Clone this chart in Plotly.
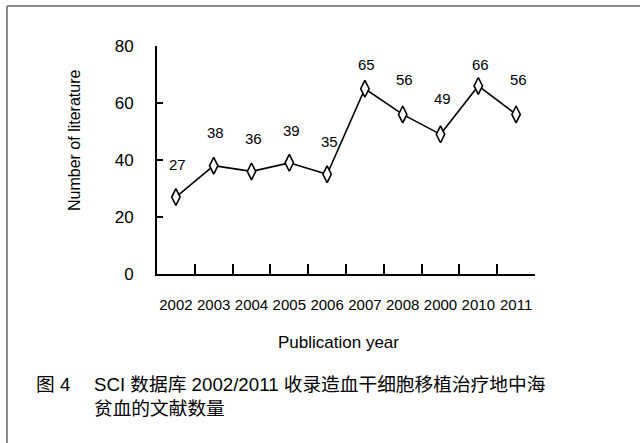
import plotly.graph_objects as go

# Yearly counts of SCI-indexed papers
years = ["2002", "2003", "2004", "2005", "2006", "2007", "2008", "2000", "2010", "2011"]
counts = [27, 38, 36, 39, 35, 65, 56, 49, 66, 56]
# vertical offset (px) of each value label above its marker
label_lift = [33, 33, 33, 32, 33, 24, 35, 36, 21, 35]

y_ticks = [0, 20, 40, 60, 80]
x_title = "Publication year"
y_title = "Number of literature"
fig_no = "图 4"
caption_1 = "SCI 数据库 2002/2011 收录造血干细胞移植治疗地中海"
caption_2 = "贫血的文献数量"

W, H = 640, 443
L, R, T, B = 157, 105, 46, 169
PW, PH = W - L - R, H - T - B
FONT = "Liberation Sans, Arial, Noto Sans CJK SC, sans-serif"


def fx(px):
    return (px - L) / PW


def fy(py):
    return (H - B - py) / PH


fig = go.Figure()
fig.add_trace(go.Scatter(
    x=years, y=counts, mode="lines+markers",
    line=dict(color="black", width=1.6),
    marker=dict(symbol="diamond-tall", size=12, color="white",
                line=dict(color="black", width=1.6)),
    showlegend=False, hoverinfo="skip",
))

annotations = []
# category positions are addressed by index on the category axis
for i, (v, lift) in enumerate(zip(counts, label_lift)):
    annotations.append(dict(
        x=i, y=v, xref="x", yref="y", text=str(v), showarrow=False,
        xshift=2, yshift=lift, font=dict(size=15, color="black", family=FONT),
    ))

annotations += [
    dict(x=fx(74), y=fy(141), xref="paper", yref="paper", text=y_title,
         textangle=-90, showarrow=False, xanchor="center", yanchor="middle",
         font=dict(size=16, color="black", family=FONT)),
    dict(x=fx(338), y=fy(342), xref="paper", yref="paper", text=x_title,
         showarrow=False, xanchor="center", yanchor="middle",
         font=dict(size=17, color="black", family=FONT)),
    dict(x=fx(34), y=fy(384), xref="paper", yref="paper", text=fig_no,
         showarrow=False, xanchor="left", yanchor="middle",
         font=dict(size=18.7, color="black", family=FONT)),
    dict(x=fx(92), y=fy(384), xref="paper", yref="paper", text=caption_1,
         showarrow=False, xanchor="left", yanchor="middle",
         font=dict(size=18.7, color="black", family=FONT)),
    dict(x=fx(92), y=fy(408), xref="paper", yref="paper", text=caption_2,
         showarrow=False, xanchor="left", yanchor="middle",
         font=dict(size=18.7, color="black", family=FONT)),
]

# frame around the figure (top and left edges)
shapes = [
    dict(type="line", xref="paper", yref="paper", x0=fx(7), x1=fx(645),
         y0=fy(6), y1=fy(6), line=dict(color="#8a8a8a", width=2)),
    dict(type="line", xref="paper", yref="paper", x0=fx(7), x1=fx(7),
         y0=fy(6), y1=fy(450), line=dict(color="#8a8a8a", width=2)),
]

fig.update_layout(
    width=W, height=H,
    margin=dict(l=L, r=R, t=T, b=B),
    paper_bgcolor="white", plot_bgcolor="white",
    font=dict(family=FONT, color="black"),
    annotations=annotations, shapes=shapes,
    xaxis=dict(
        type="category", range=[-0.5, len(years) - 0.5],
        showline=True, linecolor="black", linewidth=2,
        ticks="inside", ticklen=10, tickwidth=2, tickcolor="black",
        tickson="boundaries", showgrid=False, zeroline=False,
        tickangle=0,
        tickfont=dict(size=15, color="black", family=FONT),
        ticklabelstandoff=16,
    ),
    yaxis=dict(
        range=[0, 80], tickvals=y_ticks,
        showline=True, linecolor="black", linewidth=2,
        ticks="inside", ticklen=6, tickwidth=2, tickcolor="black",
        showgrid=False, zeroline=False,
        tickfont=dict(size=17, color="black", family=FONT),
        ticklabelstandoff=18,
    ),
)

fig.write_html("out.html")
